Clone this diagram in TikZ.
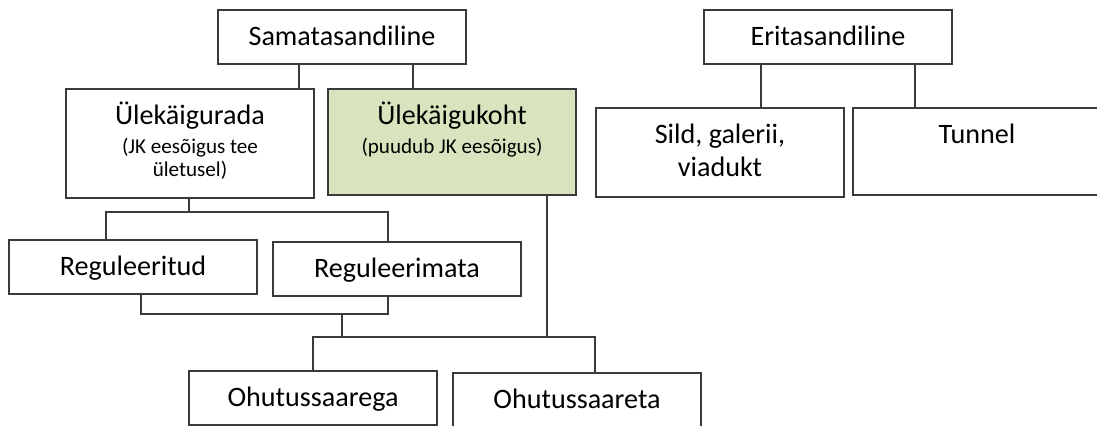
\documentclass[tikz,border=0pt]{standalone}
\usepackage{fontspec}
\setmainfont{Carlito}
\definecolor{kohtgreen}{HTML}{D7E4BD}
\definecolor{linegray}{HTML}{3A3A3A}
\newcommand{\remark}{\fontsize{15}{17}\selectfont}

\begin{document}
\begin{tikzpicture}[x=0.025cm,y=-0.025cm,
  box/.style={draw=linegray,line width=1.1pt,anchor=north,inner sep=0pt,
    text width=6.2cm,align=flush center,text height=0.89cm,
    font=\fontsize{20}{23.5}\selectfont},
  short/.style={box,text depth=0.46cm},
  link/.style={draw=linegray,line width=1.1pt}]
\useasboundingbox (0,0) rectangle (1097,426);
% top level
\node[short] (sama) at (342,9) {Samatasandiline};
\node[short] (erit) at (828,9) {Eritasandiline};
% second level
\node[box,text depth=1.835cm] (rada) at (190,88)
  {Ülekäigurada\par\vspace{0.12cm}\remark(JK eesõigus tee\\ ületusel)\par};
\node[box,fill=kohtgreen,text depth=1.76cm] (koht) at (452,88)
  {Ülekäigukoht\par\vspace{0.12cm}\remark(puudub JK eesõigus)\par};
\node[box,text depth=1.335cm] (sild) at (720,107) {Sild, galerii,\\ viadukt};
\node[box,text depth=1.285cm] (tunnel) at (977,107) {Tunnel};
% crossings
\node[short] (regul) at (133,239) {Reguleeritud};
\node[short] (mata) at (397,241) {Reguleerimata};
\node[short] (ohuga) at (313,370) {Ohutussaarega};
\node[short] (ohuta) at (577,372) {Ohutussaareta};
% connectors
\coordinate (j1) at (189,212);
\coordinate (j2) at (342,314);
\coordinate (j3) at (342,337);
\draw[link] (sama.south -| 299,0) -- (rada.north -| 299,0);
\draw[link] (sama.south -| 413,0) -- (koht.north -| 413,0);
\draw[link] (erit.south -| 761,0) -- (sild.north -| 761,0);
\draw[link] (erit.south -| 915,0) -- (tunnel.north -| 915,0);
\draw[link] (rada.south -| j1) -- (j1);
\draw[link] (regul.north -| 106,0) |- (j1) -| (mata.north -| 388,0);
\draw[link] (regul.south -| 141,0) |- (j2) -| (mata.south -| 388,0);
\draw[link] (j2) -- (j3);
\draw[link] (ohuga.north) |- (j3) -| (ohuta.north -| 595,0);
\draw[link] (koht.south -| 547,0) |- (j3);
\end{tikzpicture}
\end{document}
